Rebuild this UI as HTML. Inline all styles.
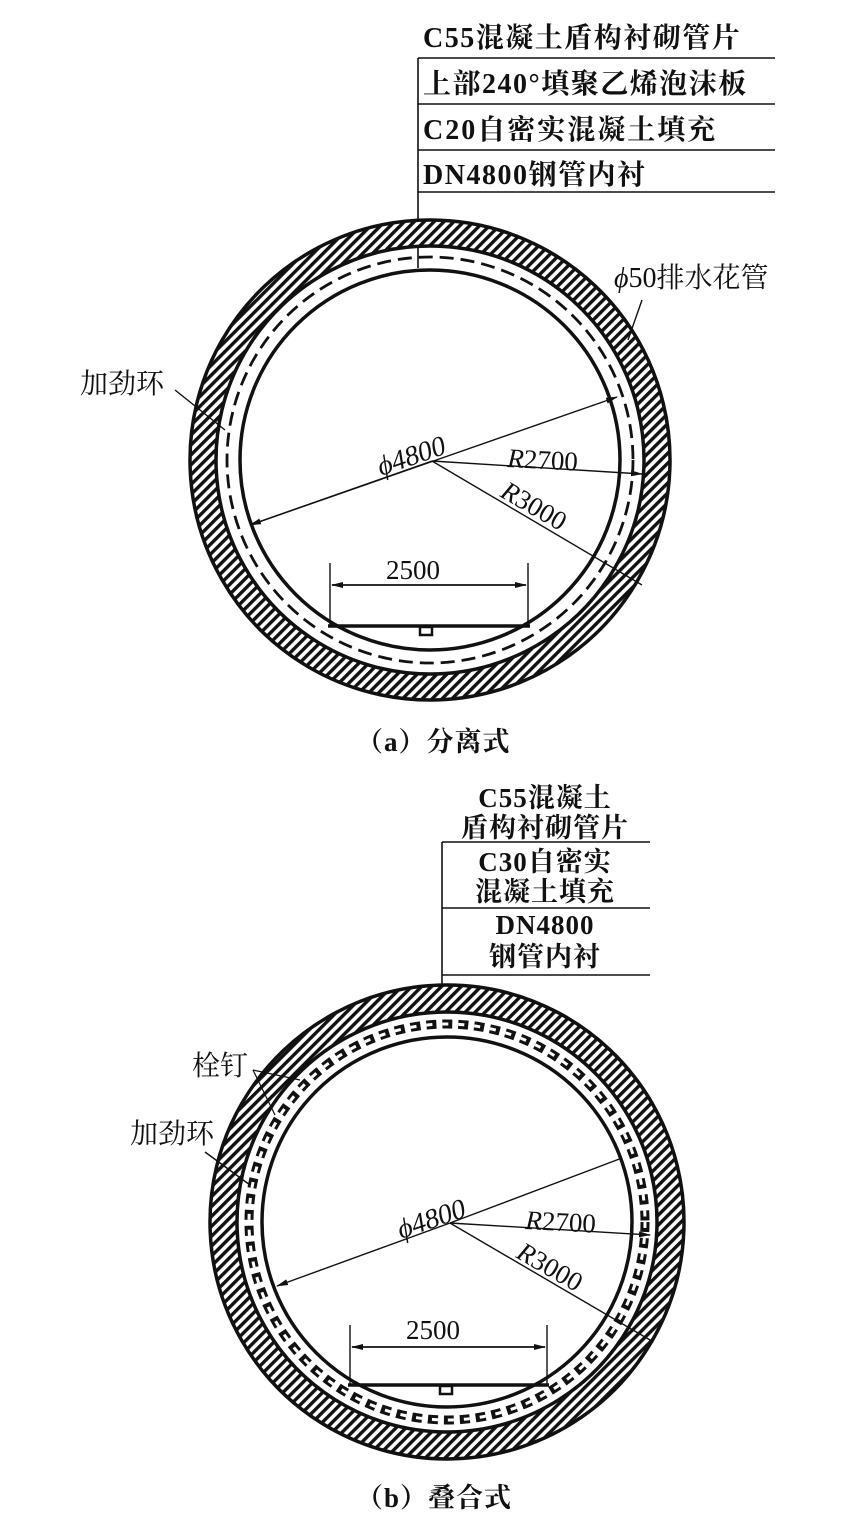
<!DOCTYPE html>
<html><head><meta charset="utf-8"><style>
html,body{margin:0;padding:0;background:#fff;}
svg{display:block}
text{font-family:"Liberation Serif","Noto Serif CJK SC",serif;fill:#111;}
</style></head><body>
<svg width="860" height="1528" viewBox="0 0 860 1528" xmlns="http://www.w3.org/2000/svg">
<defs>
<pattern id="h" patternUnits="userSpaceOnUse" width="7" height="7" patternTransform="rotate(45)">
<rect width="7" height="7" fill="#fff"/><rect x="0" y="0" width="3.4" height="7" fill="#111"/>
</pattern>
<marker id="ar" markerWidth="12" markerHeight="8" refX="11" refY="4" orient="auto" markerUnits="userSpaceOnUse">
<path d="M0,1 L12,4 L0,7 Z" fill="#111"/></marker>
</defs>

<!-- (a) -->
<g>
<text x="423" y="47" font-size="28" font-weight="bold" letter-spacing="1.5">C55混凝土盾构衬砌管片</text>
<text x="423" y="93" font-size="28" font-weight="bold" letter-spacing="1.5">上部240°填聚乙烯泡沫板</text>
<text x="423" y="139" font-size="28" font-weight="bold" letter-spacing="2">C20自密实混凝土填充</text>
<text x="423" y="184" font-size="28" font-weight="bold" letter-spacing="1.5">DN4800钢管内衬</text>
<g stroke="#111" stroke-width="1.6">
<line x1="418" y1="58" x2="775" y2="58"/>
<line x1="418" y1="104" x2="775" y2="104"/>
<line x1="418" y1="150" x2="775" y2="150"/>
<line x1="418" y1="192" x2="775" y2="192"/>
<line x1="418" y1="58" x2="418" y2="268"/>
</g>
<path d="M430,220 a240,240 0 1,0 0.01,0 Z M430,246 a214,214 0 1,1 -0.01,0 Z" fill="url(#h)" fill-rule="evenodd" stroke="#111" stroke-width="3.5"/>
<circle cx="430" cy="460" r="203" fill="none" stroke="#111" stroke-width="2.8" stroke-dasharray="14,7"/>
<circle cx="430" cy="460" r="190" fill="none" stroke="#111" stroke-width="3.5"/>
<line x1="250" y1="525" x2="617" y2="397" stroke="#111" stroke-width="1.4" marker-end="url(#ar)"/>
<line x1="432" y1="461" x2="250" y2="525" stroke="#111" stroke-width="1.4" marker-end="url(#ar)"/>
<line x1="432" y1="461" x2="642" y2="474" stroke="#111" stroke-width="1.4" marker-end="url(#ar)"/>
<line x1="432" y1="461" x2="642" y2="585" stroke="#111" stroke-width="1.4"/>
<text x="0" y="0" font-size="28" font-style="italic" transform="translate(381,476) rotate(-19)">ϕ4800</text>
<text x="0" y="0" font-size="27" transform="translate(507,467) rotate(3)"><tspan font-style="italic">R</tspan>2700</text>
<text x="0" y="0" font-size="27" transform="translate(499,496) rotate(30)"><tspan font-style="italic">R</tspan>3000</text>
<g stroke="#111" stroke-width="1.4">
<line x1="330" y1="563" x2="330" y2="625"/>
<line x1="528" y1="563" x2="528" y2="625"/>
<line x1="332" y1="585" x2="526" y2="585" marker-end="url(#ar)"/>
<line x1="526" y1="585" x2="332" y2="585" marker-end="url(#ar)"/>
</g>
<text x="386" y="579" font-size="27">2500</text>
<line x1="328" y1="626" x2="530" y2="626" stroke="#111" stroke-width="3.5"/>
<rect x="420" y="627" width="12" height="8" fill="#fff" stroke="#111" stroke-width="2.5"/>
<text x="80" y="393" font-size="28">加劲环</text>
<line x1="175" y1="390" x2="225" y2="430" stroke="#111" stroke-width="1.4"/>
<text x="614" y="287" font-size="28"><tspan font-style="italic">ϕ</tspan>50排水花管</text>
<line x1="642" y1="300" x2="628" y2="340" stroke="#111" stroke-width="1.4"/>
<text x="356" y="751" font-size="27" font-weight="bold" letter-spacing="1">（a）分离式</text>
</g>

<!-- (b) -->
<g>
<g font-size="27" font-weight="bold" text-anchor="middle" letter-spacing="1">
<text x="545" y="807">C55混凝土</text>
<text x="545" y="837">盾构衬砌管片</text>
<text x="545" y="871">C30自密实</text>
<text x="545" y="901">混凝土填充</text>
<text x="545" y="934">DN4800</text>
<text x="545" y="966">钢管内衬</text>
</g>
<g stroke="#111" stroke-width="1.6">
<line x1="442" y1="842" x2="650" y2="842"/>
<line x1="442" y1="908" x2="650" y2="908"/>
<line x1="442" y1="975" x2="650" y2="975"/>
<line x1="442" y1="842" x2="442" y2="1000"/>
</g>
<path d="M447,985 a237,237 0 1,0 0.01,0 Z M447,1012 a210,210 0 1,1 -0.01,0 Z" fill="url(#h)" fill-rule="evenodd" stroke="#111" stroke-width="3.5"/>
<circle cx="447" cy="1222" r="198" fill="none" stroke="#111" stroke-width="9" stroke-dasharray="10,6"/>
<circle cx="447" cy="1222" r="198" fill="none" stroke="#fff" stroke-width="3" stroke-dasharray="6,10"/>
<circle cx="447" cy="1222" r="185" fill="none" stroke="#111" stroke-width="3.5"/>
<line x1="450" y1="1223" x2="277" y2="1286" stroke="#111" stroke-width="1.4" marker-end="url(#ar)"/>
<line x1="450" y1="1223" x2="622" y2="1158" stroke="#111" stroke-width="1.4"/>
<line x1="450" y1="1223" x2="650" y2="1235" stroke="#111" stroke-width="1.4" marker-end="url(#ar)"/>
<line x1="450" y1="1223" x2="650" y2="1340" stroke="#111" stroke-width="1.4"/>
<text x="0" y="0" font-size="28" font-style="italic" transform="translate(401,1239) rotate(-19)">ϕ4800</text>
<text x="0" y="0" font-size="27" transform="translate(525,1229) rotate(3)"><tspan font-style="italic">R</tspan>2700</text>
<text x="0" y="0" font-size="27" transform="translate(515,1257) rotate(30)"><tspan font-style="italic">R</tspan>3000</text>
<g stroke="#111" stroke-width="1.4">
<line x1="350" y1="1325" x2="350" y2="1385"/>
<line x1="547" y1="1325" x2="547" y2="1385"/>
<line x1="352" y1="1347" x2="545" y2="1347" marker-end="url(#ar)"/>
<line x1="545" y1="1347" x2="352" y2="1347" marker-end="url(#ar)"/>
</g>
<text x="406" y="1339" font-size="27">2500</text>
<line x1="348" y1="1385" x2="549" y2="1385" stroke="#111" stroke-width="3.5"/>
<rect x="440" y="1386" width="12" height="8" fill="#fff" stroke="#111" stroke-width="2.5"/>
<text x="192" y="1075" font-size="28">栓钉</text>
<line x1="253" y1="1070" x2="300" y2="1080" stroke="#111" stroke-width="1.2"/>
<line x1="253" y1="1070" x2="275" y2="1115" stroke="#111" stroke-width="1.2"/>
<text x="130" y="1143" font-size="28">加劲环</text>
<line x1="205" y1="1152" x2="250" y2="1185" stroke="#111" stroke-width="1.4"/>
<text x="356" y="1507" font-size="27" font-weight="bold" letter-spacing="1">（b）叠合式</text>
</g>
</svg>
</body></html>
